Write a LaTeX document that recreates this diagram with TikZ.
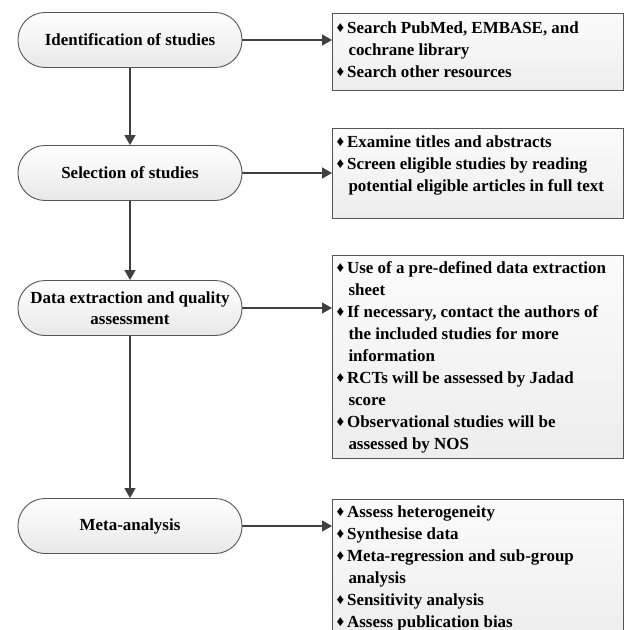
\documentclass[tikz,border=0pt]{standalone}
\usepackage{fontspec}
\setmainfont{Liberation Serif}
\usetikzlibrary{arrows.meta}
\definecolor{edge}{HTML}{555555}
\definecolor{arr}{HTML}{404040}
\newcommand{\dia}{{\fontsize{15}{15}\selectfont\raisebox{0.5bp}{♦}}\hspace{3bp}}
\newcommand{\ind}{\hspace*{12bp}}
\tikzset{
  stage/.style={draw=edge, line width=0.9bp, rounded corners=27bp,
    top color=white, bottom color=gray!18, minimum width=224bp,
    minimum height=55bp, align=center, inner sep=0pt,
    font=\fontsize{17}{21}\selectfont\bfseries},
  infobox/.style={draw=edge, line width=1bp, top color=white!97!gray,
    bottom color=gray!14, anchor=north west, inner xsep=4bp, inner ysep=0pt,
    align=left, font=\fontsize{17}{22.1}\selectfont\bfseries},
  flow/.style={draw=arr, line width=1.6bp, -{Triangle[width=11bp,length=10bp]}}
}
\begin{document}
\begin{tikzpicture}[x=1bp,y=-1bp]
\useasboundingbox (0,0) rectangle (624,630);
\begin{scope}
\clip (0,0) rectangle (624,630);
\node[stage] (s1) at (130,40) {Identification of studies};
\node[stage] (s2) at (130,173) {Selection of studies};
\node[stage] (s3) at (130,308) {Data extraction and quality\\assessment};
\node[stage] (s4) at (130,526) {Meta-analysis};

\node[infobox] (r1) at (332,13) {\parbox[t][77bp][t]{283bp}{\raggedright\vspace*{8bp}
\dia Search PubMed, EMBASE, and\\
\ind cochrane library\\
\dia Search other resources}};
\node[infobox] (r2) at (332,128) {\parbox[t][90bp][t]{283bp}{\raggedright\vspace*{7bp}
\dia Examine titles and abstracts\\
\dia Screen eligible studies by reading\\
\ind potential eligible articles in full text}};
\node[infobox] (r3) at (332,255) {\parbox[t][203bp][c]{283bp}{\raggedright
\dia Use of a pre-defined data extraction\\
\ind sheet\\
\dia If necessary, contact the authors of\\
\ind the included studies for more\\
\ind information\\
\dia RCTs will be assessed by Jadad\\
\ind score\\
\dia Observational studies will be\\
\ind assessed by NOS}};
\node[infobox] (r4) at (332,499) {\parbox[t][140bp][t]{283bp}{\raggedright\vspace*{6bp}
\dia Assess heterogeneity\\
\dia Synthesise data\\
\dia Meta-regression and sub-group\\
\ind analysis\\
\dia Sensitivity analysis\\
\dia Assess publication bias}};

\draw[flow] (s1) -- (s2);
\draw[flow] (s2) -- (s3);
\draw[flow] (s3) -- (s4);
\draw[flow] (s1.east) -- (s1.east -| r1.west);
\draw[flow] (s2.east) -- (s2.east -| r2.west);
\draw[flow] (s3.east) -- (s3.east -| r3.west);
\draw[flow] (s4.east) -- (s4.east -| r4.west);
\end{scope}
\end{tikzpicture}
\end{document}
